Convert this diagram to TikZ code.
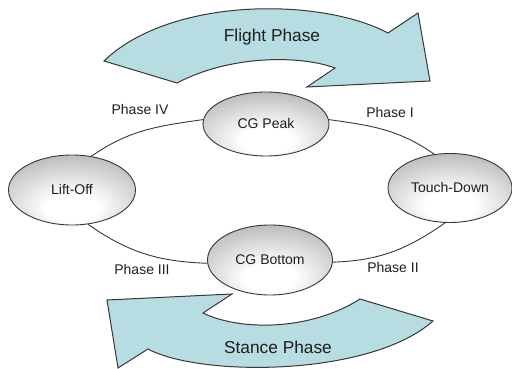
\documentclass[tikz,border=0pt]{standalone}
\usepackage{fontspec}
\setmainfont{Liberation Sans}
\usetikzlibrary{shapes.geometric}
\definecolor{arrowfill}{RGB}{183,221,226}
\definecolor{edgegray}{RGB}{55,55,55}
\definecolor{txt}{RGB}{30,30,30}
\pgfdeclareradialshading{ellshade}{\pgfpoint{0bp}{-14bp}}{%
  color(0bp)=(white); color(10bp)=(white); color(36bp)=(black!28);
  color(52bp)=(black!42); color(100bp)=(black!42)}
\tikzset{
  state/.style={ellipse, draw=edgegray, line width=0.9pt, inner sep=0pt,
    shading=ellshade,
    font=\fontsize{14}{16}\selectfont, text=txt},
  conn/.style={draw=edgegray, line width=0.9pt},
  phaselabel/.style={font=\fontsize{14}{16}\selectfont, text=txt},
  bigarrow/.style={fill=arrowfill, draw=edgegray, line width=1pt, line join=miter},
  arrowlabel/.style={font=\fontsize{17.3}{20}\selectfont, text=txt}
}
\begin{document}
\begin{tikzpicture}[x=1pt,y=1pt]
\useasboundingbox (0,0) rectangle (512,369);
% big curved arrows
\draw[bigarrow] (104,308) .. controls (170,372) and (320,372) .. (388,336)
  -- (418,356) -- (430,288) -- (307,282) -- (335,301)
  .. controls (300,314) and (230,314) .. (177,286) -- cycle;
\draw[bigarrow] (107,69) -- (232,75) -- (203,56)
  .. controls (240,38) and (310,38) .. (360,70)
  -- (433,48) .. controls (370,-8) and (200,-8) .. (148,20)
  -- (118,1) -- cycle;
\node[arrowlabel] (flight) at (272,332) {Flight Phase};
\node[arrowlabel] (stance) at (278,22) {Stance Phase};
% state nodes
\node[state, minimum width=126pt, minimum height=64pt] (peak) at (266,245) {CG Peak};
\node[state, minimum width=127pt, minimum height=70pt] (lift) at (72,179) {Lift-Off};
\node[state, minimum width=124pt, minimum height=69pt] (touch) at (450,181) {Touch-Down};
\node[state, minimum width=125pt, minimum height=70pt] (bottom) at (270,109) {CG Bottom};
% connectors
\draw[conn] (peak.176) to[out=188,in=35] (lift.60);
\draw[conn] (peak.4) to[out=-8,in=145] (touch.115);
\draw[conn] (lift.-65) to[out=-35,in=178] (bottom.183);
\draw[conn] (touch.-98) to[out=215,in=2] (bottom.-2);
% labels
\node[phaselabel] (p4) at (140,259) {Phase IV};
\node[phaselabel] (p1) at (390,256) {Phase I};
\node[phaselabel] (p3) at (142,100) {Phase III};
\node[phaselabel] (p2) at (393,101) {Phase II};
\end{tikzpicture}
\end{document}
